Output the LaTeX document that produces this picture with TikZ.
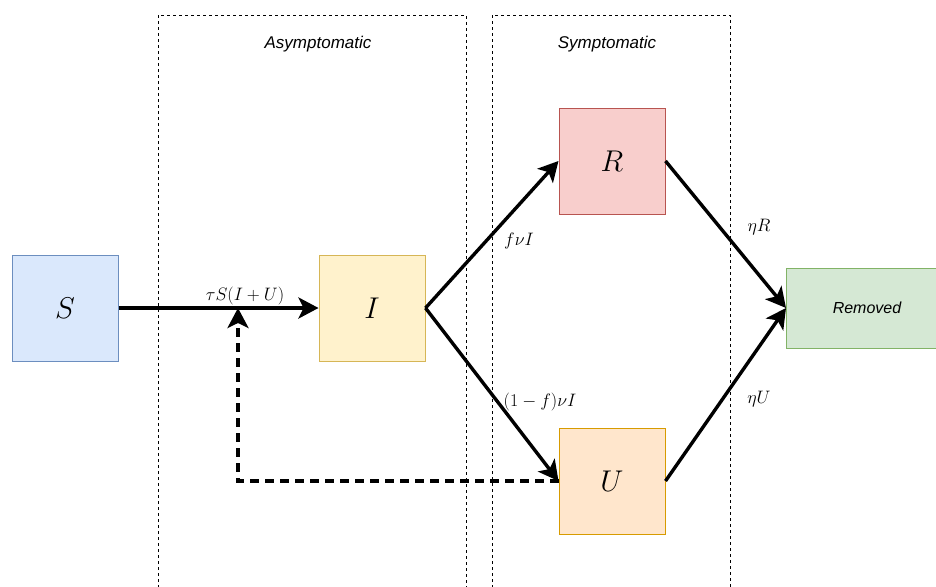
\RequirePackage{fix-cm}
\documentclass[tikz,border=0pt]{standalone}
\usepackage{fontspec}
\setmainfont{Liberation Sans}
\usetikzlibrary{arrows.meta}
\definecolor{sfill}{HTML}{DAE8FC}\definecolor{sdraw}{HTML}{6C8EBF}
\definecolor{ifill}{HTML}{FFF2CC}\definecolor{idraw}{HTML}{D6B656}
\definecolor{rfill}{HTML}{F8CECC}\definecolor{rdraw}{HTML}{B85450}
\definecolor{ufill}{HTML}{FFE6CC}\definecolor{udraw}{HTML}{D79B00}
\definecolor{gfill}{HTML}{D5E8D4}\definecolor{gdraw}{HTML}{82B366}
\begin{document}
\begin{tikzpicture}[x=1pt,y=-1pt,
  compartment/.style={draw,line width=1pt,inner sep=0pt,minimum width=106pt,minimum height=106pt,
    font=\fontsize{30}{36}\selectfont},
  region/.style={draw,line width=0.8pt,dash pattern=on 3pt off 3pt},
  regionlabel/.style={font=\fontsize{17}{20}\selectfont\itshape},
  flow/.style={line width=3.4pt,-{Stealth[length=20pt,width=21pt,inset=5pt]}},
  feedback/.style={flow,dash pattern=on 9pt off 6pt},
  ratelabel/.style={font=\fontsize{18}{22}\selectfont,inner sep=1pt}]
\useasboundingbox (0,0) rectangle (936,586);
% regions
\draw[region] (158,600) -- (158,15) -- (466,15) -- (466,600);
\draw[region] (492,600) -- (492,15) -- (730,15) -- (730,600);
\node[regionlabel] (asy) at (318,44) {Asymptomatic};
\node[regionlabel] (sym) at (607,44) {Symptomatic};
% compartments
\node[compartment,fill=sfill,draw=sdraw] (S) at (65,308) {$S$};
\node[compartment,fill=ifill,draw=idraw] (I) at (372,308) {$I$};
\node[compartment,fill=rfill,draw=rdraw] (R) at (612,161) {$R$};
\node[compartment,fill=ufill,draw=udraw] (U) at (612,481) {$U$};
\node[draw=gdraw,fill=gfill,line width=1pt,inner sep=0pt,minimum width=161pt,minimum height=80pt,
  font=\fontsize{16}{19}\selectfont\itshape] (Rem) at (867,308) {Removed};
\coordinate (fb) at (238,308);
% flows
\draw[flow] (S.east) -- (I.west);
\draw[flow] (I.east) -- (R.west);
\draw[flow] (I.east) -- (U.west);
\draw[flow] (R.east) -- (Rem.west);
\draw[flow] (U.east) -- (Rem.west);
\draw[feedback] (U.west) -| (fb);
% rate labels
\node[ratelabel] (l1) at (245,296) {$\tau S(I+U)$};
\node[ratelabel] (l2) at (519,241) {$f\nu I$};
\node[ratelabel] (l3) at (540,402) {$(1-f)\nu I$};
\node[ratelabel] (l4) at (759,227) {$\eta R$};
\node[ratelabel] (l5) at (759,399) {$\eta U$};
\end{tikzpicture}
\end{document}
